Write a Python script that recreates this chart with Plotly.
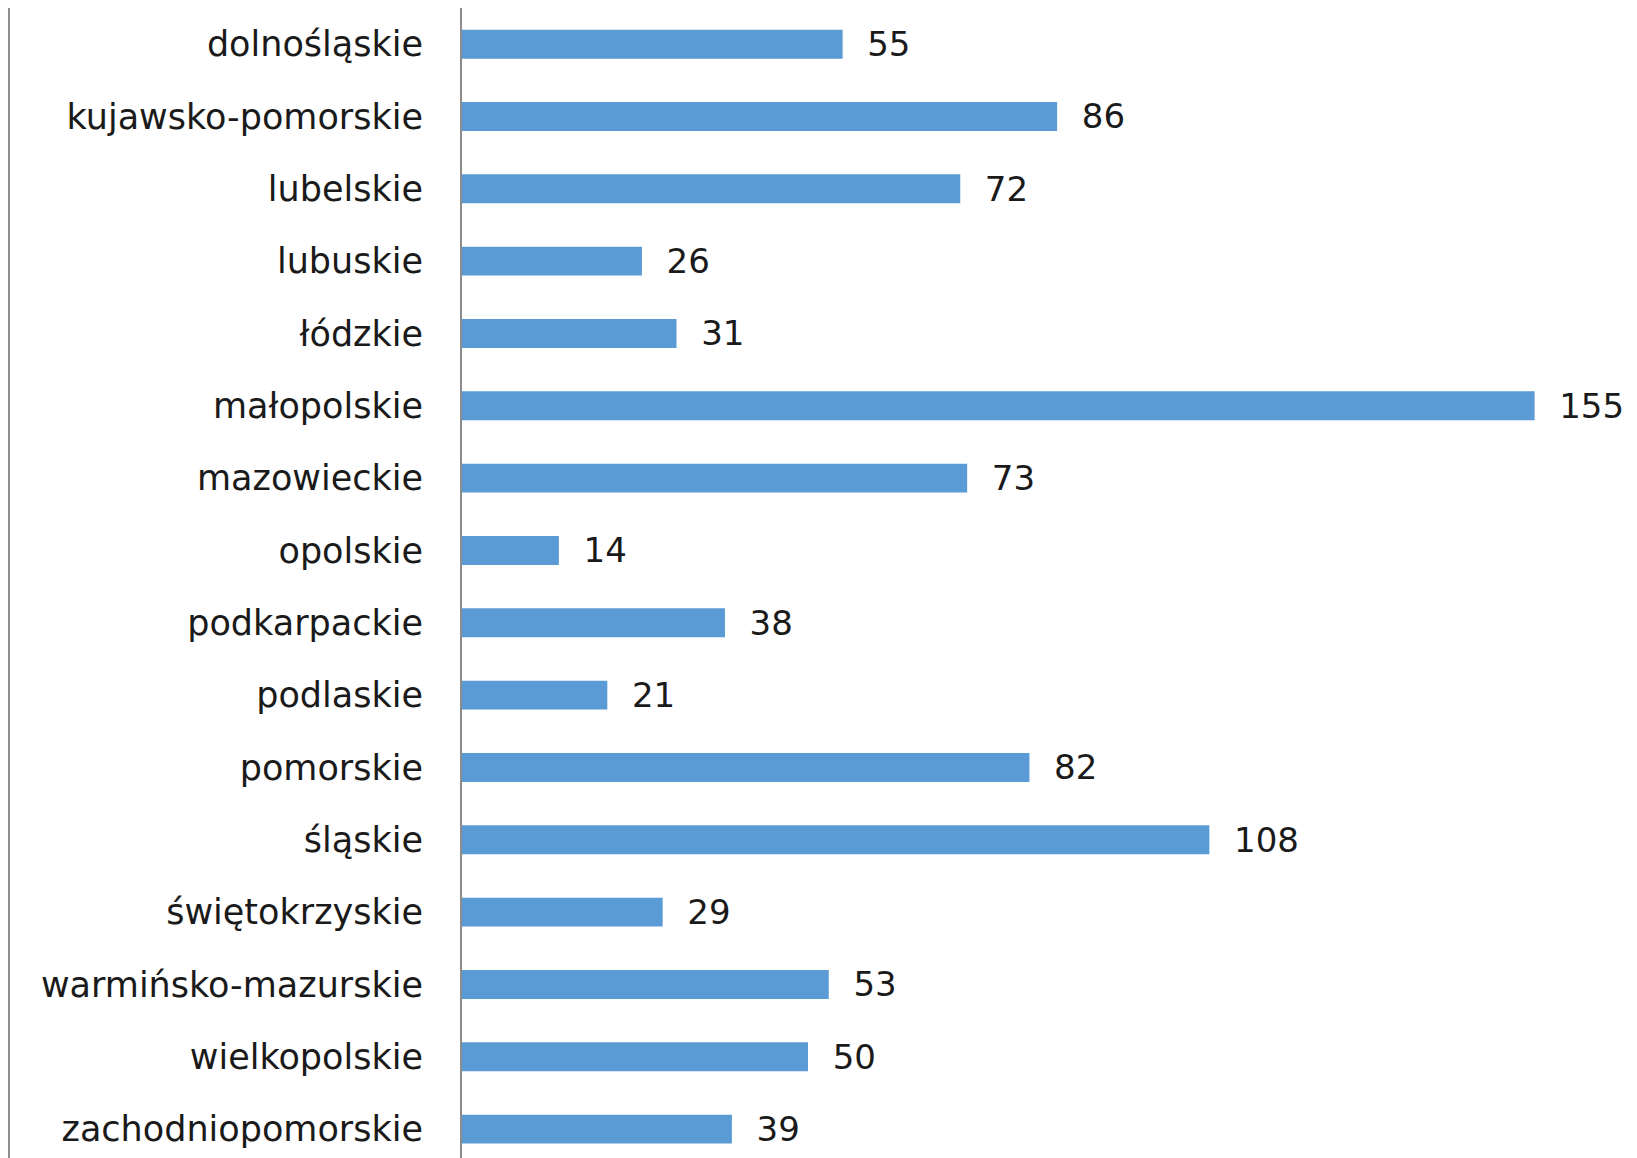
import plotly.graph_objects as go

categories = ["dolnośląskie", "kujawsko-pomorskie", "lubelskie", "lubuskie", "łódzkie",
              "małopolskie", "mazowieckie", "opolskie", "podkarpackie", "podlaskie",
              "pomorskie", "śląskie", "świętokrzyskie", "warmińsko-mazurskie",
              "wielkopolskie", "zachodniopomorskie"]
values = [55, 86, 72, 26, 31, 155, 73, 14, 38, 21, 82, 108, 29, 53, 50, 39]

W, H = 1637, 1158
ML = 454

fig = go.Figure(go.Bar(
    x=values, y=categories, orientation="h",
    marker=dict(color="#5B9BD5", line=dict(width=0)),
    width=0.4,
    text=values,
    texttemplate="\u00a0\u00a0%{x}",
    textposition="outside",
    constraintext="none",
    cliponaxis=False,
    textfont=dict(family="DejaVu Sans", size=34, color="#1a1a1a"),
    hoverinfo="skip",
))

fig.update_layout(
    width=W, height=H,
    margin=dict(l=ML, r=0, t=0, b=0, pad=0),
    paper_bgcolor="white", plot_bgcolor="white",
    showlegend=False,
    font=dict(family="DejaVu Sans", size=34, color="#1a1a1a"),
    xaxis=dict(range=[0, 170.95], visible=False, showgrid=False, zeroline=False),
    yaxis=dict(type="category", range=[15.51, -0.5], showgrid=False, zeroline=False,
               showline=True, linecolor="#8c8c8c", linewidth=2, ticks="",
               ticklabelstandoff=30,
               tickfont=dict(family="DejaVu Sans", size=35, color="#1a1a1a")),
    shapes=[dict(type="line", xref="paper", yref="paper",
                 x0=-ML / (W - ML) + 0.0008, x1=-ML / (W - ML) + 0.0008, y0=0, y1=1,
                 line=dict(color="#8c8c8c", width=2))],
)

fig.write_html("out.html")
